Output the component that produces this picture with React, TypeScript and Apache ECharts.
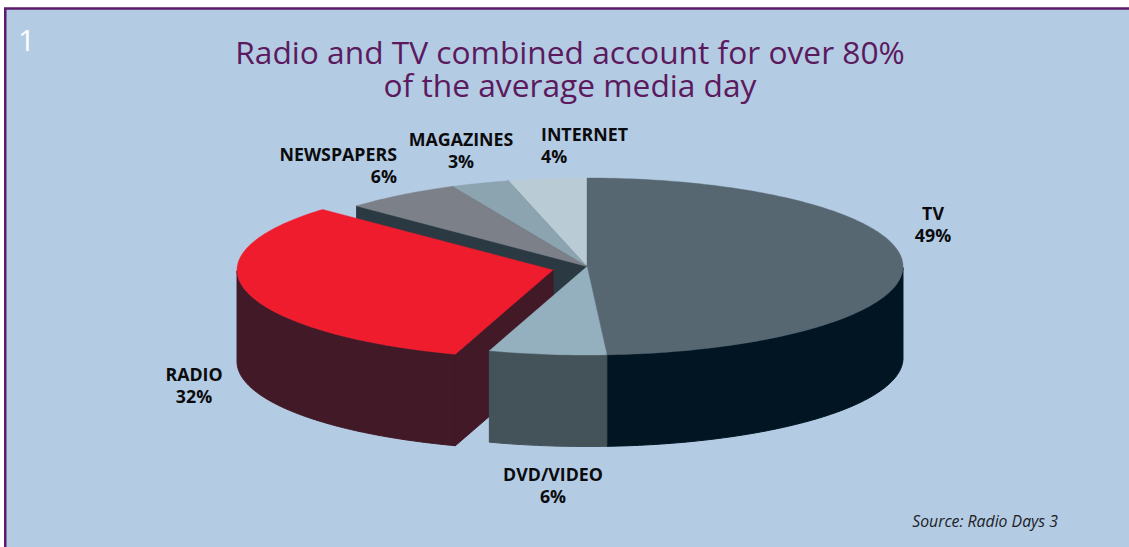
import React, { useEffect, useRef } from "react";
import * as echarts from "echarts";

// Media shares, clockwise from twelve o'clock
const categories = ["TV", "DVD/VIDEO", "RADIO", "NEWSPAPERS", "MAGAZINES", "INTERNET"];
const shares = [49, 6, 32, 6, 3, 4];
const topColors = ["#566771", "#94b0bf", "#ef1c2e", "#7c8189", "#8ca3b0", "#b9cbd5"];
const wallColors = ["#011622", "#445259", "#421927", "#2b3a42", "#4d5d68", "#5f6f78"];
const pulledOut = ["RADIO"];

const titleText = "Radio and TV combined account for over 80%\nof the average media day";
const sourceText = "Source: Radio Days 3";

// Projection of the disc onto the page
const CX = 587;
const CY = 266.5;
const RX = 316;
const RY = 88.5;
const DEPTH = 91.5;
const PULL_X = 0.111;
const PULL_Y = 0.16;

const FONT = '"Open Sans", "Noto Sans", sans-serif';

// Where each slice's caption sits, and which way it is aligned
const captionSpots: Record<string, { x: number; y: number; align: string }> = {
  TV: { x: 933, y: 224, align: "center" },
  "DVD/VIDEO": { x: 553, y: 485, align: "center" },
  RADIO: { x: 194, y: 385, align: "center" },
  NEWSPAPERS: { x: 397, y: 165, align: "right" },
  MAGAZINES: { x: 461, y: 150, align: "center" },
  INTERNET: { x: 541, y: 145, align: "left" },
};

const toRad = (share: number) => (share / 100) * Math.PI * 2;

// Slices are painted from the back of the disc to the front
function paintOrder() {
  let run = 0;
  const rows = categories.map((name, i) => {
    const start = run;
    run += shares[i];
    return { index: i, start, end: run, name };
  });
  return rows
    .slice()
    .sort(
      (a, b) =>
        Math.cos(toRad((b.start + b.end) / 2)) - Math.cos(toRad((a.start + a.end) / 2))
    );
}

function renderSlice(_params: any, api: any) {
  const index = api.value(0);
  const start = toRad(api.value(1));
  const end = toRad(api.value(2));
  const mid = (start + end) / 2;
  const isPulled = pulledOut.includes(categories[index]);
  const ox = CX + RX * Math.sin(mid) * (isPulled ? PULL_X : 0);
  const oy = CY - RY * Math.cos(mid) * (isPulled ? PULL_Y : 0);
  const at = (t: number, drop = 0): number[] => [
    ox + RX * Math.sin(t),
    oy - RY * Math.cos(t) + drop,
  ];

  const steps = Math.max(2, Math.ceil((end - start) / (Math.PI / 180)));
  const rim: number[] = [];
  for (let i = 0; i <= steps; i++) rim.push(start + ((end - start) * i) / steps);

  const wall = (points: number[][]) => ({
    type: "polygon",
    silent: true,
    shape: { points },
    style: {
      fill: wallColors[index],
      stroke: wallColors[index],
      lineWidth: 1,
    },
  });

  const children: any[] = [];

  // Cut faces that turn towards the viewer
  if (Math.sin(start) < -1e-6) {
    children.push(wall([[ox, oy], at(start), at(start, DEPTH), [ox, oy + DEPTH]]));
  }
  if (Math.sin(end) > 1e-6) {
    children.push(wall([[ox, oy], at(end), at(end, DEPTH), [ox, oy + DEPTH]]));
  }

  // Outer rim, front half only
  const frontRim = rim.filter((t) => Math.cos(t) <= 0.001);
  if (frontRim.length > 1) {
    const outer = frontRim
      .map((t) => at(t))
      .concat(frontRim.slice().reverse().map((t) => at(t, DEPTH)));
    children.push(wall(outer));
  }

  // Top face
  children.push({
    type: "polygon",
    silent: true,
    shape: { points: [[ox, oy] as number[]].concat(rim.map((t) => at(t))) },
    style: { fill: topColors[index], stroke: topColors[index], lineWidth: 0.4 },
  });

  return { type: "group", children };
}

export default function App() {
  const ref = useRef<HTMLDivElement>(null);

  useEffect(() => {
    if (!ref.current) return;
    const chart = echarts.init(ref.current, undefined, { renderer: "svg" });

    const captions = categories.map((name, i) => {
      const spot = captionSpots[name];
      return {
        type: "text",
        x: spot.x,
        y: spot.y,
        z: 5,
        style: {
          text: `${name}\n${shares[i]}%`,
          fill: "#0b0b0d",
          font: `bold 17.8px ${FONT}`,
          lineHeight: 22,
          align: spot.align,
          verticalAlign: "middle",
        },
      };
    });

    chart.setOption({
      animation: false,
      backgroundColor: "#ffffff",
      title: {
        text: titleText,
        left: 570,
        top: 35,
        textAlign: "center",
        padding: 0,
        textStyle: {
          color: "#5c1a5e",
          fontFamily: FONT,
          fontWeight: "normal",
          fontSize: 31.7,
          lineHeight: 33,
        },
      },
      graphic: [
        {
          type: "rect",
          z: -10,
          shape: { x: 5.25, y: 8.5, width: 1140, height: 560 },
          style: { fill: "#b3cbe3", stroke: "#5c1a6b", lineWidth: 2.5 },
        },
        {
          type: "text",
          x: 18,
          y: 39,
          z: 5,
          style: {
            text: "1",
            fill: "#ffffff",
            font: `normal 30px ${FONT}`,
            verticalAlign: "middle",
          },
        },
        {
          type: "text",
          x: 1058,
          y: 521,
          z: 5,
          style: {
            text: sourceText,
            fill: "#1c2126",
            font: `italic 15.8px ${FONT}`,
            align: "right",
            verticalAlign: "middle",
          },
        },
        ...captions,
      ],
      series: [
        {
          type: "custom",
          coordinateSystem: "none",
          silent: true,
          clip: false,
          renderItem: renderSlice,
          data: paintOrder().map((row) => [row.index, row.start, row.end]),
        },
      ],
    });

    return () => chart.dispose();
  }, []);

  return (
    <div
      ref={ref}
      style={{ position: "absolute", left: 0, top: 0, width: 1129, height: 547 }}
    />
  );
}
